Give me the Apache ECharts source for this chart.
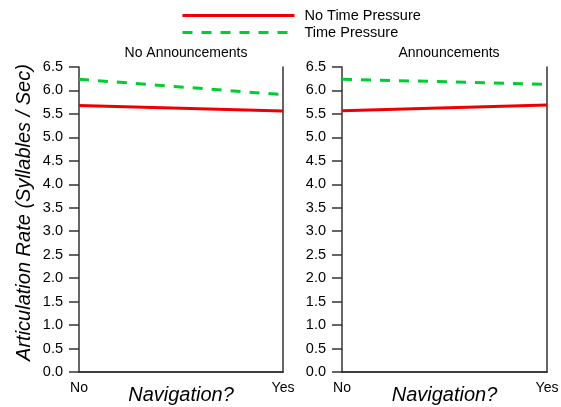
<!DOCTYPE html>
<html><head><meta charset="utf-8">
<script src="https://cdn.jsdelivr.net/npm/echarts@6/dist/echarts.min.js"></script>
<style>html,body{margin:0;padding:0;background:#fff}#c{width:561px;height:407px}</style>
</head><body><div id="c"></div>
<script>
var categories = ['No', 'Yes'];
var panelTitles = ['No Announcements', 'Announcements'];
var seriesNames = ['No Time Pressure', 'Time Pressure'];
var noAnnNoPressure = [5.68, 5.56];
var noAnnPressure = [6.24, 5.91];
var annNoPressure = [5.57, 5.69];
var annPressure = [6.24, 6.13];
var yTicks = [0, 6.5, 0.5];

var FONT = 'Liberation Sans, Arial, sans-serif';
var RED = '#ee0000', GREEN = '#00cc33';
var AX = '#333';
var grids = [
  {left: 79, width: 204, top: 67, height: 305, outerBoundsMode: 'none', containLabel: false},
  {left: 342, width: 205, top: 67, height: 305, outerBoundsMode: 'none', containLabel: false}
];
var xAxes = [], yAxes = [];
grids.forEach(function (g, i) {
  xAxes.push({
    gridIndex: i, type: 'category', data: categories, boundaryGap: false, position: 'bottom',
    axisLine: {lineStyle: {color: AX, width: 1.5}}, axisTick: {show: false},
    axisLabel: {color: '#000', fontSize: 14, fontFamily: FONT, margin: 9},
    name: 'Navigation?', nameLocation: 'middle', nameGap: 13, nameMoveOverlap: false,
    nameTextStyle: {fontSize: 20, fontStyle: 'italic', fontFamily: FONT, color: '#000'}
  });
  xAxes.push({
    gridIndex: i, type: 'category', data: categories, boundaryGap: false, position: 'top',
    axisLine: {lineStyle: {color: AX, width: 1.5}}, axisTick: {show: false}, axisLabel: {show: false}
  });
  var y = {
    gridIndex: i, type: 'value', min: yTicks[0], max: yTicks[1], interval: yTicks[2], position: 'left',
    axisLine: {show: true, lineStyle: {color: AX, width: 1.5}},
    axisTick: {show: true, length: 10, lineStyle: {color: AX, width: 1.5}},
    axisLabel: {color: '#000', fontSize: 14.5, fontFamily: FONT, margin: 16, formatter: function (v) { return v.toFixed(1); }},
    splitLine: {show: false}
  };
  if (i === 0) {
    y.name = 'Articulation Rate (Syllables / Sec)';
    y.nameLocation = 'middle';
    y.nameGap = 45;
    y.nameMoveOverlap = false;
    y.nameTextStyle = {fontSize: 20, fontStyle: 'italic', fontFamily: FONT, color: '#000', padding: [0, 0, 0, 14]};
  }
  yAxes.push(y);
  yAxes.push({
    gridIndex: i, type: 'value', min: yTicks[0], max: yTicks[1], interval: yTicks[2], position: 'right',
    axisLine: {show: true, lineStyle: {color: AX, width: 1.5}}, axisTick: {show: false},
    axisLabel: {show: false}, splitLine: {show: false}
  });
});

function mk(name, data, xi, yi, color, dashed) {
  return {
    name: name, type: 'line', data: data, xAxisIndex: xi, yAxisIndex: yi,
    symbol: 'none', color: color,
    lineStyle: {color: color, width: 3, type: dashed ? [10, 9] : 'solid'},
    animation: false
  };
}

var option = {
  animation: false,
  backgroundColor: '#fff',
  title: [
    {text: panelTitles[0], left: 181, top: 41, textAlign: 'center', textStyle: {fontSize: 14, fontWeight: 'normal', fontFamily: FONT, color: '#000'}},
    {text: panelTitles[1], left: 444, top: 41, textAlign: 'center', textStyle: {fontSize: 14, fontWeight: 'normal', fontFamily: FONT, color: '#000'}}
  ],
  legend: {
    orient: 'vertical', left: 181, top: 8, padding: 0, itemWidth: 112, itemHeight: 14, itemGap: 2,
    itemStyle: {opacity: 0},
    textStyle: {fontSize: 14.5, fontFamily: FONT, color: '#000', padding: [0, 0, 0, 5]},
    data: [
      {name: seriesNames[0], itemStyle: {opacity: 0}, lineStyle: {width: 3, color: RED}},
      {name: seriesNames[1], itemStyle: {opacity: 0}, lineStyle: {width: 3, color: GREEN, type: [10, 9]}}
    ]
  },
  grid: grids,
  xAxis: xAxes,
  yAxis: yAxes,
  series: [
    mk(seriesNames[0], noAnnNoPressure, 0, 0, RED, false),
    mk(seriesNames[1], noAnnPressure, 0, 0, GREEN, true),
    mk(seriesNames[0], annNoPressure, 2, 2, RED, false),
    mk(seriesNames[1], annPressure, 2, 2, GREEN, true)
  ]
};
var chart = echarts.init(document.getElementById('c'), null, {renderer: 'canvas'});
chart.setOption(option);
</script></body></html>
